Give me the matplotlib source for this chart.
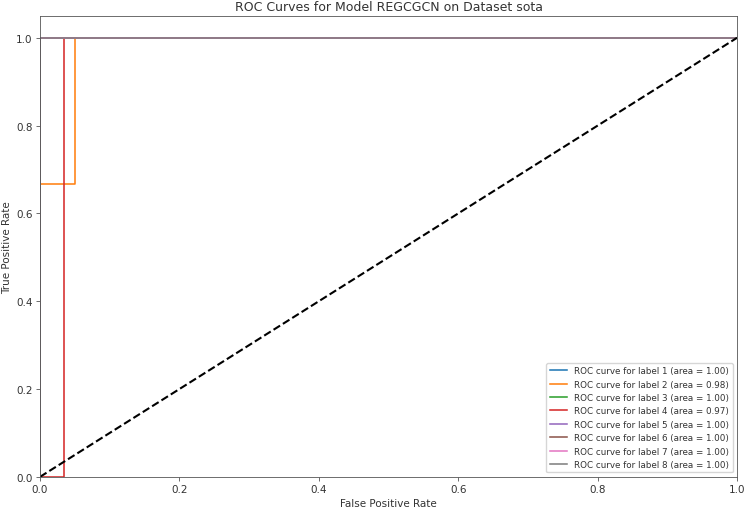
import numpy as np
import matplotlib
matplotlib.use("Agg")
import matplotlib.pyplot as plt

# ROC points per label (fpr, tpr) and reported AUC
labels = [1, 2, 3, 4, 5, 6, 7, 8]
fpr_list = [
    [0.0, 0.0, 1.0],
    [0.0, 0.0, 0.05, 0.05, 1.0],
    [0.0, 0.0, 1.0],
    [0.0, 0.034, 0.034, 1.0],
    [0.0, 0.0, 1.0],
    [0.0, 0.0, 1.0],
    [0.0, 0.0, 1.0],
    [0.0, 0.0, 1.0],
]
tpr_list = [
    [0.0, 1.0, 1.0],
    [0.0, 0.667, 0.667, 1.0, 1.0],
    [0.0, 1.0, 1.0],
    [0.0, 0.0, 1.0, 1.0],
    [0.0, 1.0, 1.0],
    [0.0, 1.0, 1.0],
    [0.0, 1.0, 1.0],
    [0.0, 1.0, 1.0],
]
aucs = [1.00, 0.98, 1.00, 0.97, 1.00, 1.00, 1.00, 1.00]

# original looks like a default figure scaled down by ~0.75
s = 0.75
plt.rcParams.update({
    "font.size": 10 * s,
    "axes.linewidth": 0.8 * s,
    "xtick.major.width": 0.8 * s,
    "ytick.major.width": 0.8 * s,
    "xtick.major.size": 3.5 * s,
    "ytick.major.size": 3.5 * s,
    "xtick.major.pad": 3.5 * s,
    "ytick.major.pad": 3.5 * s,
    "axes.edgecolor": "#555555",
    "xtick.color": "#555555",
    "ytick.color": "#555555",
    "xtick.labelcolor": "#333333",
    "ytick.labelcolor": "#333333",
    "text.color": "#333333",
    "axes.labelcolor": "#333333",
})

fig, ax = plt.subplots(figsize=(7.46, 5.1), dpi=100)
fig.subplots_adjust(left=0.0536, right=0.988, top=0.967, bottom=0.063)

for lab, fpr, tpr, auc in zip(labels, fpr_list, tpr_list, aucs):
    ax.plot(fpr, tpr, lw=1.5 * s, label=f"ROC curve for label {lab} (area = {auc:.2f})")

ax.plot([0, 1], [0, 1], "k--", lw=2 * s)
ax.set_xlim(0.0, 1.0)
ax.set_ylim(0.0, 1.05)
ax.set_xlabel("False Positive Rate", labelpad=3)
ax.set_ylabel("True Positive Rate", labelpad=3)
ax.set_title("ROC Curves for Model REGCGCN on Dataset sota", fontsize=12 * s, pad=4)
ax.legend(loc="lower right", fontsize=6.3)

fig.savefig("out.png")
